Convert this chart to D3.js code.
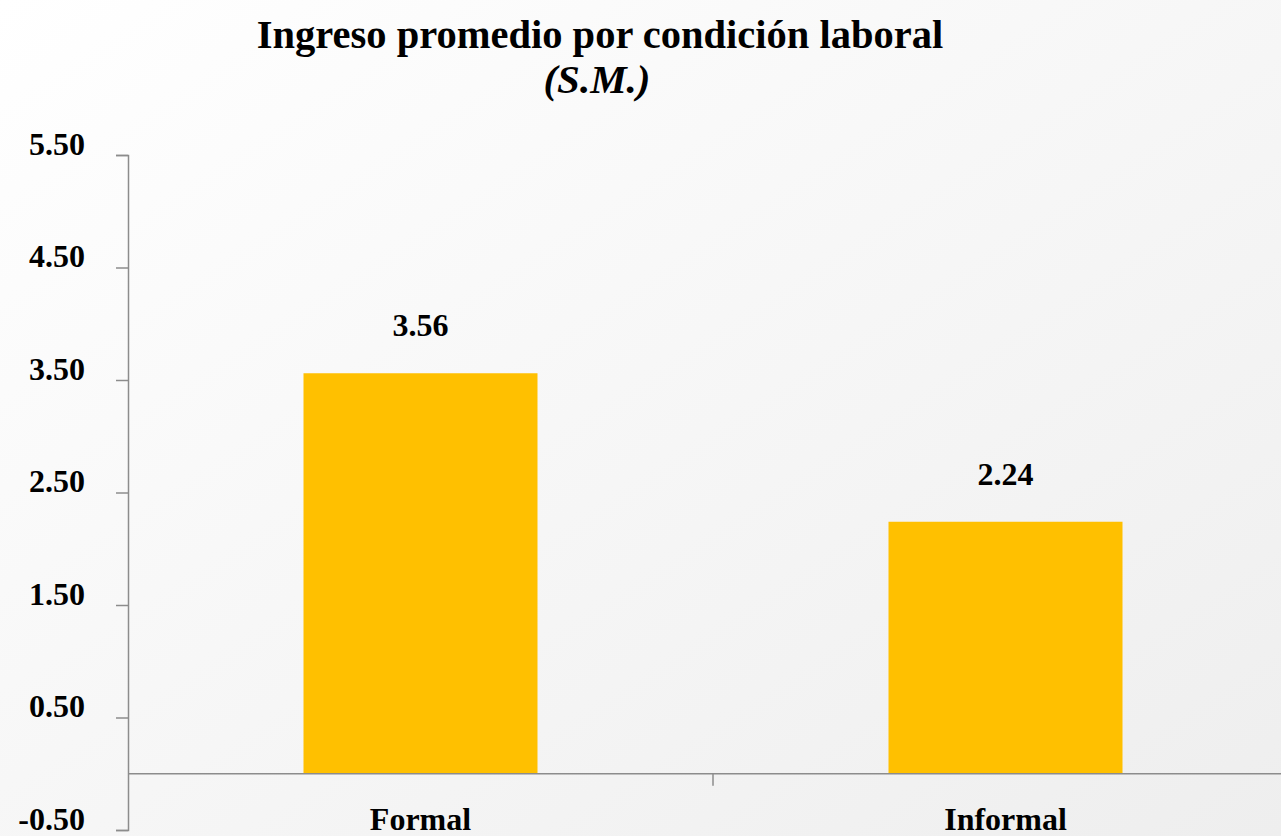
<!DOCTYPE html>
<html>
<head>
<meta charset="utf-8">
<script src="https://cdn.jsdelivr.net/npm/d3@7"></script>
<style>
  body { margin: 0; overflow: hidden; }
  svg { display: block; font-family: "Liberation Serif", "DejaVu Serif", serif; }
</style>
</head>
<body>
<div id="chart"></div>
<script>
// Données
const categories = ["Formal", "Informal"];
const valores = [3.56, 2.24];
const yTicks = [-0.5, 0.5, 1.5, 2.5, 3.5, 4.5, 5.5];
const titulo = "Ingreso promedio por condición laboral";
const subtitulo = "(S.M.)";

const width = 1281, height = 836;
const margin = { top: 155, left: 128, bottom: 6 };

const svg = d3.select("#chart")
    .append("svg")
    .attr("width", width)
    .attr("height", height);

// fond dégradé
const defs = svg.append("defs");
const grad = defs.append("linearGradient")
    .attr("id", "bg")
    .attr("x1", "0%").attr("y1", "0%")
    .attr("x2", "100%").attr("y2", "100%");
grad.append("stop").attr("offset", "0%").attr("stop-color", "#ffffff");
grad.append("stop").attr("offset", "100%").attr("stop-color", "#eeeeee");

svg.append("rect")
    .attr("width", width)
    .attr("height", height)
    .attr("fill", "url(#bg)");

// échelles
const y = d3.scaleLinear()
    .domain([-0.5, 5.5])
    .range([height - margin.bottom, margin.top]);

const x = d3.scaleBand()
    .domain(categories)
    .range([margin.left, margin.left + 1170])
    .paddingInner(0.6)
    .paddingOuter(0.3);

// axe Y
const yAxis = svg.append("g")
    .attr("transform", `translate(${margin.left},0)`)
    .call(d3.axisLeft(y)
        .tickValues(yTicks)
        .tickSize(12)
        .tickPadding(31)
        .tickFormat(d => d.toFixed(2)));

yAxis.select(".domain").attr("stroke", "#8c8c8c").attr("stroke-width", 1.5);
yAxis.selectAll(".tick line").attr("stroke", "#8c8c8c").attr("stroke-width", 1.5);
yAxis.selectAll(".tick text")
    .attr("fill", "#000")
    .attr("dy", "-1")   // texte posé sur la graduation
    .style("font-size", "32px")
    .style("font-weight", "bold")
    .style("font-family", "Liberation Serif, serif");

// barres
svg.selectAll("rect.bar")
    .data(valores)
    .enter()
    .append("rect")
    .attr("class", "bar")
    .attr("x", (d, i) => x(categories[i]))
    .attr("y", d => y(d))
    .attr("width", x.bandwidth())
    .attr("height", d => y(0) - y(d))
    .attr("fill", "#ffc000");

// ligne zéro + tick séparateur
svg.append("line")
    .attr("x1", margin.left).attr("x2", width)
    .attr("y1", y(0)).attr("y2", y(0))
    .attr("stroke", "#8c8c8c").attr("stroke-width", 1.5);

svg.append("line")
    .attr("x1", margin.left + x.step()).attr("x2", margin.left + x.step())
    .attr("y1", y(0)).attr("y2", y(0) + 12)
    .attr("stroke", "#8c8c8c").attr("stroke-width", 1.5);

// étiquettes de valeur
svg.selectAll("text.val")
    .data(valores)
    .enter()
    .append("text")
    .attr("class", "val")
    .attr("x", (d, i) => x(categories[i]) + x.bandwidth() / 2)
    .attr("y", d => y(d) - 37)
    .attr("text-anchor", "middle")
    .style("font-size", "32px")
    .style("font-weight", "bold")
    .text(d => d.toFixed(2));

// catégories
svg.selectAll("text.cat")
    .data(categories)
    .enter()
    .append("text")
    .attr("class", "cat")
    .attr("x", d => x(d) + x.bandwidth() / 2)
    .attr("y", 830)
    .attr("text-anchor", "middle")
    .style("font-size", "32px")
    .style("font-weight", "bold")
    .text(d => d);

// titre
svg.append("text")
    .attr("x", 600)
    .attr("y", 48)
    .attr("text-anchor", "middle")
    .style("font-size", "40.5px")
    .style("font-weight", "bold")
    .text(titulo);

svg.append("text")
    .attr("x", 597)
    .attr("y", 93)
    .attr("text-anchor", "middle")
    .style("font-size", "41px")
    .style("font-weight", "bold")
    .style("font-style", "italic")
    .text(subtitulo);
</script>
</body>
</html>
